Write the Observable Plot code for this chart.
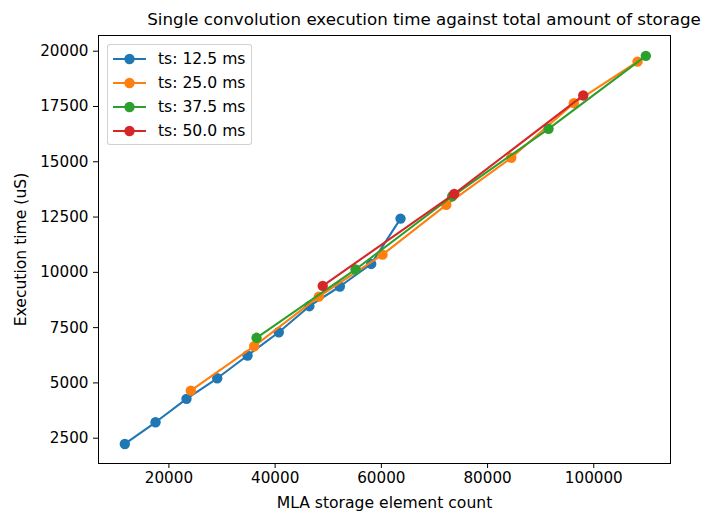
<!DOCTYPE html>
<html>
<head>
<meta charset="utf-8">
<script src="https://cdn.jsdelivr.net/npm/d3@7"></script>
<script src="https://cdn.jsdelivr.net/npm/@observablehq/plot@0.6"></script>
<style>
  body { margin: 0; background: #fff; }
  #wrap { position: relative; width: 704px; height: 514px; font-family: "DejaVu Sans", sans-serif; }
  #title { position: absolute; left: 0; top: 9px; width: 704px; text-align: center; font-size: 16.7px; color: #000; padding-left: 144px; box-sizing: border-box; white-space: nowrap; }
  #chart { position: absolute; left: 0; top: 0; }
  #legend { position: absolute; left: 107px; top: 44px; width: 145px; height: 101px; border: 1px solid rgba(204,204,204,0.9); border-radius: 3px; background: rgba(255,255,255,0.8); box-sizing: border-box; font-size: 15.6px; }
  .row { position: absolute; left: 0; height: 20px; }
  .row span { position: absolute; left: 50px; top: 0px; line-height: 20px; white-space: nowrap; color: #000; }
</style>
</head>
<body>
<div id="wrap">
  <div id="chart"></div>
  <div id="title">Single convolution execution time against total amount of storage</div>
  <div id="legend"></div>
</div>
<script>
const seriesNames = ["ts: 12.5 ms", "ts: 25.0 ms", "ts: 37.5 ms", "ts: 50.0 ms"];
const seriesColors = ["#1f77b4", "#ff7f0e", "#2ca02c", "#d62728"];

const storage12_5 = [11700, 17480, 23310, 29100, 34800, 40690, 46440, 52180, 58090, 63610];
const time12_5    = [2240, 3220, 4280, 5210, 6240, 7290, 8470, 9360, 10380, 12430];

const storage25_0 = [24120, 36060, 48230, 60220, 72220, 84460, 96240, 108240];
const time25_0    = [4650, 6660, 8900, 10800, 13050, 15180, 17650, 19530];

const storage37_5 = [36500, 55140, 73350, 91480, 109800];
const time37_5    = [7040, 10130, 13440, 16490, 19790];

const storage50_0 = [48960, 73720, 98010];
const time50_0    = [9390, 13550, 18000];

const xTicks = [20000, 40000, 60000, 80000, 100000];
const yTicks = [2500, 5000, 7500, 10000, 12500, 15000, 17500, 20000];

const allX = [storage12_5, storage25_0, storage37_5, storage50_0];
const allY = [time12_5, time25_0, time37_5, time50_0];

const rows = [];
seriesNames.forEach((s, i) => {
  allX[i].forEach((x, j) => rows.push({series: s, x, y: allY[i][j]}));
});

const marks = [];
seriesNames.forEach((s) => {
  const d = rows.filter(r => r.series === s);
  marks.push(Plot.line(d, {x: "x", y: "y", stroke: "series", strokeWidth: 2.1}));
  marks.push(Plot.dot(d, {x: "x", y: "y", fill: "series", r: 5.2, stroke: null}));
});

const chart = Plot.plot({
  width: 704,
  height: 514,
  marginTop: 35,
  marginBottom: 51,
  marginLeft: 98,
  marginRight: 34,
  style: {fontFamily: "DejaVu Sans, sans-serif", fontSize: "15px", color: "#000", background: "#fff"},
  color: {domain: seriesNames, range: seriesColors},
  x: {domain: [6742, 114444]},
  y: {domain: [1356, 20710]},
  marks: [
    Plot.axisX({ticks: xTicks, tickFormat: d3.format("d"), tickSize: 5, tickPadding: 4, fontSize: 15.2,
      label: null}),
    Plot.axisX({ticks: [], label: "MLA storage element count", labelAnchor: "center", labelArrow: "none",
      labelOffset: 44, fontSize: 15.6}),
    Plot.axisY({ticks: yTicks, tickFormat: d3.format("d"), tickSize: 5, tickPadding: 5, fontSize: 15.2,
      label: null}),
    Plot.axisY({ticks: [], label: "Execution time (uS)", labelAnchor: "center", labelArrow: "none",
      labelOffset: 84, fontSize: 15.6}),
    ...marks,
    Plot.frame({stroke: "#000", strokeWidth: 1})
  ]
});
document.getElementById("chart").appendChild(chart);

const legend = document.getElementById("legend");
seriesNames.forEach((s, i) => {
  const row = document.createElement("div");
  row.className = "row";
  row.style.top = (4 + i * 24) + "px";
  row.style.width = "140px";
  row.innerHTML = `<svg width="45" height="20" style="position:absolute;left:0;top:0">
      <line x1="5" x2="38" y1="10" y2="10" stroke="${seriesColors[i]}" stroke-width="2.1"/>
      <circle cx="21.5" cy="10" r="5.2" fill="${seriesColors[i]}"/></svg><span>${s}</span>`;
  legend.appendChild(row);
});
</script>
</body>
</html>
